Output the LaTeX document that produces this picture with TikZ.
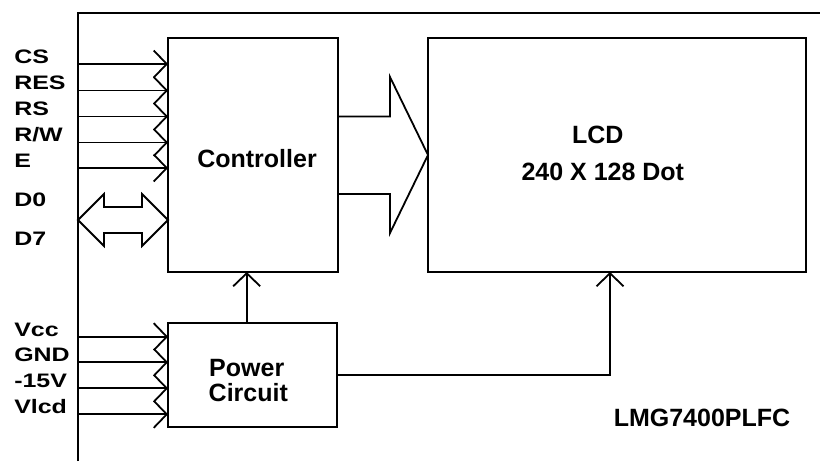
\documentclass[tikz,border=0pt]{standalone}
\usepackage{fontspec}
\setmainfont{Liberation Sans}
\usetikzlibrary{arrows.meta,calc}
\begin{document}
\begin{tikzpicture}[x=1pt,y=-1pt,
  box/.style={draw,line width=2pt,inner sep=0pt,outer sep=0pt},
  wire/.style={line width=1.8pt},
  sig/.style={wire,-{Straight Barb[length=13pt,width=27pt,line width=1.8pt]}},
  lbl/.style={font=\fontsize{19.5}{20}\selectfont\bfseries,anchor=base west,inner sep=0pt,xscale=1.28},
  txt/.style={font=\fontsize{25}{26}\selectfont\bfseries,inner sep=0pt},
]
\useasboundingbox (0,0) rectangle (820,461);
% outer frame
\coordinate (fb) at (78,461);
\coordinate (ft) at (78,13);
\coordinate (fr) at (820,13);
\draw[line width=2pt] (fb) -- (ft) -- (fr);
% boxes
\node[box,minimum width=170pt,minimum height=234pt] (ctrl) at (253,155) {};
\node[box,minimum width=378pt,minimum height=234pt] (lcd) at (617,155) {};
\node[box,minimum width=169pt,minimum height=104pt] (pwr) at (252.5,375) {};
% texts
\node[txt,anchor=base] (ctrltxt) at (257,167.5) {Controller};
\node[txt,anchor=base] (lcdtxt) at (597.7,143.3) {LCD};
\node[txt,anchor=base] (dottxt) at (602.8,180.7) {240 X 128 Dot};
\node[txt,anchor=base west] (pw1) at (209,376) {Power};
\node[txt,anchor=base west] (pw2) at (208.5,401) {Circuit};
\node[txt,anchor=base] (model) at (702,426.7) {LMG7400PLFC};
% left labels
\node[lbl] (lcs) at (14,63.3) {CS};
\node[lbl] (lres) at (14,89.3) {RES};
\node[lbl] (lrs) at (14,115.3) {RS};
\node[lbl] (lrw) at (14,141.3) {R/W};
\node[lbl] (le) at (14,167.3) {E};
\node[lbl] (ld0) at (14,206) {D0};
\node[lbl] (ld7) at (14,245) {D7};
\node[lbl] (lvcc) at (14,336) {Vcc};
\node[lbl] (lgnd) at (14,361.7) {GND};
\node[lbl] (l15) at (14,387.5) {-15V};
\node[lbl] (lvl) at (14,413) {Vlcd};
% control inputs
\foreach \n/\y in {cs/64,res/90.5,rs/116.5,rw/142.5,e/168}{
  \coordinate (\n) at (78,\y);
  \draw[sig] (\n) -- (\n -| ctrl.west);
}
% power inputs
\foreach \n/\y in {vcc/336.7,gnd/362.3,m15/388.3,vl/414.3}{
  \coordinate (\n) at (78,\y);
  \draw[sig] (\n) -- (\n -| pwr.west);
}
% data bus double arrow
\coordinate (dl) at (78,220);
\coordinate (dr) at (dl -| ctrl.west);
\draw[wire,line join=miter] (dl) -- ($(dl)+(26,-26)$) -- ($(dl)+(26,-13)$) -- ($(dr)+(-26,-13)$)
  -- ($(dr)+(-26,-26)$) -- (dr) -- ($(dr)+(-26,26)$) -- ($(dr)+(-26,13)$)
  -- ($(dl)+(26,13)$) -- ($(dl)+(26,26)$) -- cycle;
% big arrow controller -> LCD
\coordinate (bt) at ($(ctrl.east)+(0,-38.5)$);
\coordinate (bb) at ($(ctrl.east)+(0,39)$);
\draw[wire,line join=miter] (bt) -- ($(bt)+(52,0)$) -- ($(ctrl.east)+(52,-78)$) -- (lcd.west)
  -- ($(ctrl.east)+(52,78)$) -- ($(bb)+(52,0)$) -- (bb);
% power -> controller
\coordinate (pc) at ($(pwr.north)+(-5.8,0)$);
\draw[sig] (pc) -- (pc |- ctrl.south);
% power -> LCD
\coordinate (pl) at ($(lcd.south west)+(182,0)$);
\draw[sig] (pwr.east) -| (pl);
\end{tikzpicture}
\end{document}
